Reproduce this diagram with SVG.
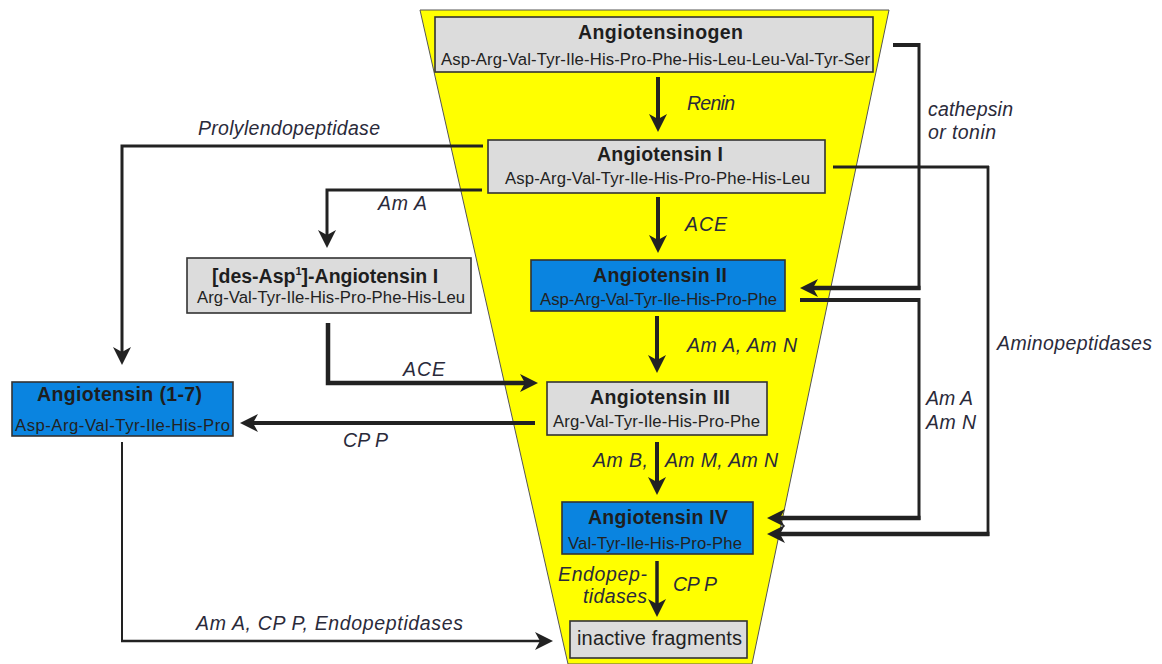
<svg xmlns="http://www.w3.org/2000/svg" width="1162" height="664" viewBox="0 0 1162 664">
<style>
.t{font-family:"Liberation Sans",Arial,sans-serif;font-weight:bold;font-size:19.5px;fill:#1e1e1e}
.s{font-family:"Liberation Sans",Arial,sans-serif;font-size:16.7px;fill:#222}
.l{font-family:"Liberation Sans",Arial,sans-serif;font-style:italic;font-size:19.5px;fill:#2a2a3a}
.g{fill:#dcdcdc;stroke:#333;stroke-width:1.6}
.b{fill:#0a84e0;stroke:#333;stroke-width:1.6}
.c{fill:none;stroke:#222;stroke-linejoin:miter}
</style>
<defs>
<marker id="ah" viewBox="0 0 18 18" markerWidth="18" markerHeight="18" refX="8" refY="9" orient="auto" markerUnits="userSpaceOnUse">
<path d="M0,0 L18,9 L0,18 L5,9 Z" fill="#222"/>
</marker>
</defs>
<rect width="1162" height="664" fill="#fff"/>
<polygon id="funnel" points="420,10 889,10 752,664 568,664" fill="#ffff00" stroke="#555" stroke-width="1"/>

<g id="connectors">
<path class="c" stroke-width="4" d="M658,77 V122" marker-end="url(#ah)"/>
<path class="c" stroke-width="4" d="M658,197 V243" marker-end="url(#ah)"/>
<path class="c" stroke-width="4" d="M657,316 V363" marker-end="url(#ah)"/>
<path class="c" stroke-width="4" d="M657,442 V485" marker-end="url(#ah)"/>
<path class="c" stroke-width="3.5" d="M657,561 V607" marker-end="url(#ah)"/>
<path class="c" stroke-width="3" d="M483,146 H122 V355" marker-end="url(#ah)"/>
<path class="c" stroke-width="3" d="M482,190 H327 V238" marker-end="url(#ah)"/>
<path class="c" stroke-width="4.5" d="M328,323 V383 H528" marker-end="url(#ah)"/>
<path class="c" stroke-width="4" d="M535,423 H250" marker-end="url(#ah)"/>
<g id="c-17-inactive">
<path class="c" stroke-width="2" d="M122,442 V641"/>
<path class="c" stroke-width="2.5" d="M121,641 H543" marker-end="url(#ah)"/>
</g>
<g id="c-cathepsin">
<path class="c" stroke-width="4" d="M893,45 H919"/>
<path class="c" stroke-width="3" d="M919,43 V290"/>
<path class="c" stroke-width="4.5" d="M920.5,288 H810" marker-end="url(#ah)"/>
</g>
<g id="c-aminopeptidases">
<path class="c" stroke-width="2.8" d="M833,167 H989"/>
<path class="c" stroke-width="2.8" d="M988,166 V536"/>
<path class="c" stroke-width="4.5" d="M989.4,534 H777" marker-end="url(#ah)"/>
</g>
<g id="c-amAN">
<path class="c" stroke-width="4" d="M800,300 H920"/>
<path class="c" stroke-width="3" d="M919,298 V520"/>
<path class="c" stroke-width="4.5" d="M920.5,518 H777" marker-end="url(#ah)"/>
</g>
</g>

<g id="labels">
<text class="l" x="687" y="110" textLength="48">Renin</text>
<text class="l" x="198" y="135" textLength="182">Prolylendopeptidase</text>
<text class="l" x="378" y="210" textLength="49">Am A</text>
<text class="l" x="685" y="231" textLength="42">ACE</text>
<text class="l" x="928" y="116" textLength="85">cathepsin</text>
<text class="l" x="928" y="139" textLength="68">or tonin</text>
<text class="l" x="997" y="350" textLength="155">Aminopeptidases</text>
<text class="l" x="687" y="352" textLength="110">Am A, Am N</text>
<text class="l" x="403" y="376" textLength="42">ACE</text>
<text class="l" x="343" y="447" textLength="45">CP P</text>
<text class="l" x="593" y="467" textLength="55">Am B,</text>
<text class="l" x="665" y="467" textLength="113">Am M, Am N</text>
<text class="l" x="926" y="405" textLength="47">Am A</text>
<text class="l" x="926" y="429" textLength="50">Am N</text>
<text class="l" x="558" y="581" textLength="89">Endopep-</text>
<text class="l" x="583" y="603" textLength="64">tidases</text>
<text class="l" x="673" y="591" textLength="44">CP P</text>
<text class="l" x="196" y="630" textLength="267">Am A, CP P, Endopeptidases</text>
</g>

<g id="angiotensinogen">
<rect class="g" x="435" y="17" width="438" height="55"/>
<text class="t" x="578" y="39" textLength="165">Angiotensinogen</text>
<text class="s" x="441" y="65" textLength="429">Asp-Arg-Val-Tyr-Ile-His-Pro-Phe-His-Leu-Leu-Val-Tyr-Ser</text>
</g>
<g id="angiotensin-1">
<rect class="g" x="488" y="140" width="337" height="53"/>
<text class="t" x="597" y="161" textLength="126">Angiotensin I</text>
<text class="s" x="505" y="184" textLength="305">Asp-Arg-Val-Tyr-Ile-His-Pro-Phe-His-Leu</text>
</g>
<g id="des-asp1-angiotensin-1">
<rect class="g" x="187" y="258" width="284" height="55"/>
<text class="t" x="212" y="283">[des-Asp<tspan dy="-8" font-size="11">1</tspan><tspan dy="8">]-Angiotensin I</tspan></text>
<text class="s" x="197" y="303" textLength="268">Arg-Val-Tyr-Ile-His-Pro-Phe-His-Leu</text>
</g>
<g id="angiotensin-2">
<rect class="b" x="531" y="260" width="254" height="51"/>
<text class="t" x="593" y="282" textLength="134">Angiotensin II</text>
<text class="s" x="540" y="305" textLength="237">Asp-Arg-Val-Tyr-Ile-His-Pro-Phe</text>
</g>
<g id="angiotensin-1-7">
<rect class="b" x="12" y="382" width="221" height="54"/>
<text class="t" x="37" y="401" textLength="165">Angiotensin (1-7)</text>
<text class="s" x="15" y="431" textLength="215">Asp-Arg-Val-Tyr-Ile-His-Pro</text>
</g>
<g id="angiotensin-3">
<rect class="g" x="547" y="382" width="220" height="53"/>
<text class="t" x="590" y="404" textLength="140">Angiotensin III</text>
<text class="s" x="553" y="427" textLength="207">Arg-Val-Tyr-Ile-His-Pro-Phe</text>
</g>
<g id="angiotensin-4">
<rect class="b" x="562" y="502" width="191" height="52"/>
<text class="t" x="588" y="524" textLength="140">Angiotensin IV</text>
<text class="s" x="568" y="549" textLength="174">Val-Tyr-Ile-His-Pro-Phe</text>
</g>
<g id="inactive-fragments">
<rect class="g" x="570" y="621" width="177" height="37"/>
<text class="s" x="577" y="645" textLength="165" style="font-size:20px">inactive fragments</text>
</g>
</svg>
